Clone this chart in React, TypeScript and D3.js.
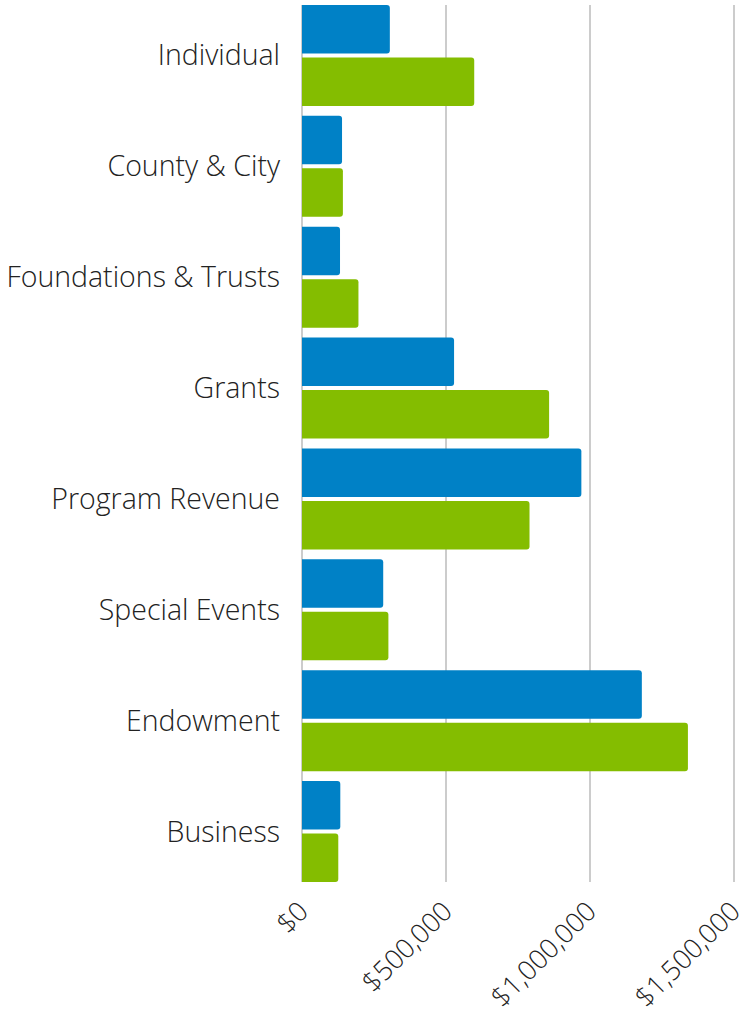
import React from "react";
import * as d3 from "d3";

const categories = [
  "Individual",
  "County & City",
  "Foundations & Trusts",
  "Grants",
  "Program Revenue",
  "Special Events",
  "Endowment",
  "Business",
];
const seriesA = [305000, 139000, 132000, 528000, 970000, 282000, 1180000, 133000];
const seriesB = [598000, 142000, 196000, 858000, 790000, 300000, 1340000, 126000];
const xTicks = [0, 500000, 1000000, 1500000];

const W = 743;
const H = 1013;
const margin = { top: 5, right: 9, bottom: 131, left: 302 };
const colors = ["#0081c6", "#84bd00"];

// bar with rounded right end, square left end
function barPath(x0: number, x1: number, y: number, h: number, r: number) {
  const rr = Math.min(r, (x1 - x0) / 2, h / 2);
  return `M${x0},${y}H${x1 - rr}Q${x1},${y} ${x1},${y + rr}V${y + h - rr}Q${x1},${y + h} ${x1 - rr},${y + h}H${x0}Z`;
}

export default function App() {
  const x = d3.scaleLinear().domain([0, 1500000]).range([margin.left, W - margin.right]);
  const y = d3
    .scaleBand<string>()
    .domain(categories)
    .range([margin.top, H - margin.bottom])
    .paddingInner(0.09)
    .paddingOuter(0);
  const gap = 4;
  const bh = (y.bandwidth() - gap) / 2;
  const fmt = (v: number) => "$" + d3.format(",")(v);
  const font = "'Open Sans', sans-serif";
  const bottom = H - margin.bottom;

  return (
    <div style={{ position: "absolute", left: 0, top: 0 }}>
      <svg width={W} height={H} style={{ display: "block" }}>
        {xTicks.map((t) => (
          <line key={t} x1={x(t)} x2={x(t)} y1={margin.top} y2={bottom} stroke="#cccccc" strokeWidth={2} />
        ))}
        {categories.map((c, i) => {
          const y0 = y(c)!;
          return (
            <g key={c}>
              <path d={barPath(x(0), x(seriesA[i]), y0, bh, 3)} fill={colors[0]} />
              <path d={barPath(x(0), x(seriesB[i]), y0 + bh + gap, bh, 3)} fill={colors[1]} />
              <text
                x={margin.left - 22}
                y={y0 + y.bandwidth() / 2}
                dy="0.35em"
                textAnchor="end"
                fontFamily={font}
                fontWeight={300}
                fontSize={28.5}
                fill="#222"
              >
                {c}
              </text>
            </g>
          );
        })}
        {xTicks.map((t) => (
          <text
            key={"l" + t}
            transform={`translate(${x(t) + 8},${bottom + 31}) rotate(-45)`}
            textAnchor="end"
            fontFamily={font}
            fontWeight={300}
            fontSize={27}
            fill="#222"
          >
            {fmt(t)}
          </text>
        ))}
      </svg>
    </div>
  );
}
